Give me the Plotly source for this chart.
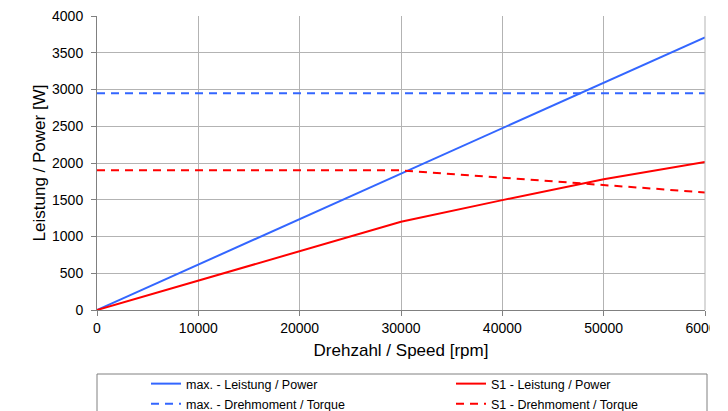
import plotly.graph_objects as go

# Data
speed_max_power = [0, 60000]
max_power = [0, 3710]
speed_max_torque = [0, 60000]
max_torque = [2950, 2950]
speed_s1_power = [0, 30000, 40000, 50000, 60000]
s1_power = [0, 1200, 1495, 1780, 2015]
speed_s1_torque = [0, 30000, 60000]
s1_torque = [1900, 1900, 1600]

names = ["max. - Leistung / Power", "S1 - Leistung / Power",
         "max. - Drehmoment / Torque", "S1 - Drehmoment / Torque"]
x_ticks = [0, 10000, 20000, 30000, 40000, 50000, 60000]
y_ticks = [0, 500, 1000, 1500, 2000, 2500, 3000, 3500, 4000]

BLUE = "#3366FF"
RED = "#FF0000"
FONT = "Arial, Liberation Sans, sans-serif"

# page body has an 8px margin; figure coords = screen coords - 8
OFF = 8
PL, PR, PT, PB = 97, 705, 16, 310          # plot area in screen px
W, H = 710 - OFF, 411 - OFF
PW, PH = PR - PL, PB - PT


def px_y(sy):
    return -(sy - PB) / PH


def px_x(sx):
    return (sx - PL) / PW


fig = go.Figure()
fig.add_trace(go.Scatter(x=speed_max_power, y=max_power, mode="lines", name=names[0],
                         line=dict(color=BLUE, width=2), legend="legend"))
fig.add_trace(go.Scatter(x=speed_s1_power, y=s1_power, mode="lines", name=names[1],
                         line=dict(color=RED, width=2), legend="legend2"))
fig.add_trace(go.Scatter(x=speed_max_torque, y=max_torque, mode="lines", name=names[2],
                         line=dict(color=BLUE, width=2, dash="8px,6px"), legend="legend3"))
fig.add_trace(go.Scatter(x=speed_s1_torque, y=s1_torque, mode="lines", name=names[3],
                         line=dict(color=RED, width=2, dash="8px,6px"), legend="legend4"))

leg_common = dict(orientation="v", xanchor="left", yanchor="middle",
                  font=dict(size=12.5, family=FONT), bgcolor="rgba(0,0,0,0)",
                  borderwidth=0, itemwidth=30)

axis_common = dict(showgrid=True, gridcolor="#b3b3b3", gridwidth=1,
                   showline=True, linecolor="#808080", linewidth=1,
                   ticks="outside", ticklen=5, tickcolor="#808080",
                   tickfont=dict(size=14), zeroline=False, automargin=False,
                   ticklabeloverflow="allow")

fig.update_layout(
    width=W, height=H,
    margin=dict(l=PL - OFF, r=W - (PR - OFF), t=PT - OFF, b=H - (PB - OFF), autoexpand=False),
    paper_bgcolor="white", plot_bgcolor="white",
    font=dict(family=FONT, color="#000000"),
    xaxis=dict(range=[0, 60000], tickvals=x_ticks, ticktext=[str(v) for v in x_ticks],
               title=dict(text="Drehzahl / Speed [rpm]", font=dict(size=17), standoff=9),
               **axis_common),
    yaxis=dict(range=[0, 4000], tickvals=y_ticks, ticktext=[str(v) for v in y_ticks],
               ticklabelstandoff=5,
               title=dict(text="Leistung / Power [W]", font=dict(size=17), standoff=2),
               **axis_common),
    showlegend=True,
    legend=dict(x=px_x(146), y=px_y(384), **leg_common),
    legend2=dict(x=px_x(451), y=px_y(384), **leg_common),
    legend3=dict(x=px_x(146), y=px_y(404), **leg_common),
    legend4=dict(x=px_x(451), y=px_y(404), **leg_common),
    shapes=[
        dict(type="rect", xref="paper", yref="paper",
             x0=0, x1=px_x(707), y0=px_y(420), y1=px_y(374),
             line=dict(color="#808080", width=1), fillcolor="rgba(0,0,0,0)", layer="below"),
        dict(type="line", xref="paper", yref="paper",
             x0=1, x1=1, y0=0, y1=1, line=dict(color="#b3b3b3", width=1)),
    ],
)

fig.write_html("out.html")
